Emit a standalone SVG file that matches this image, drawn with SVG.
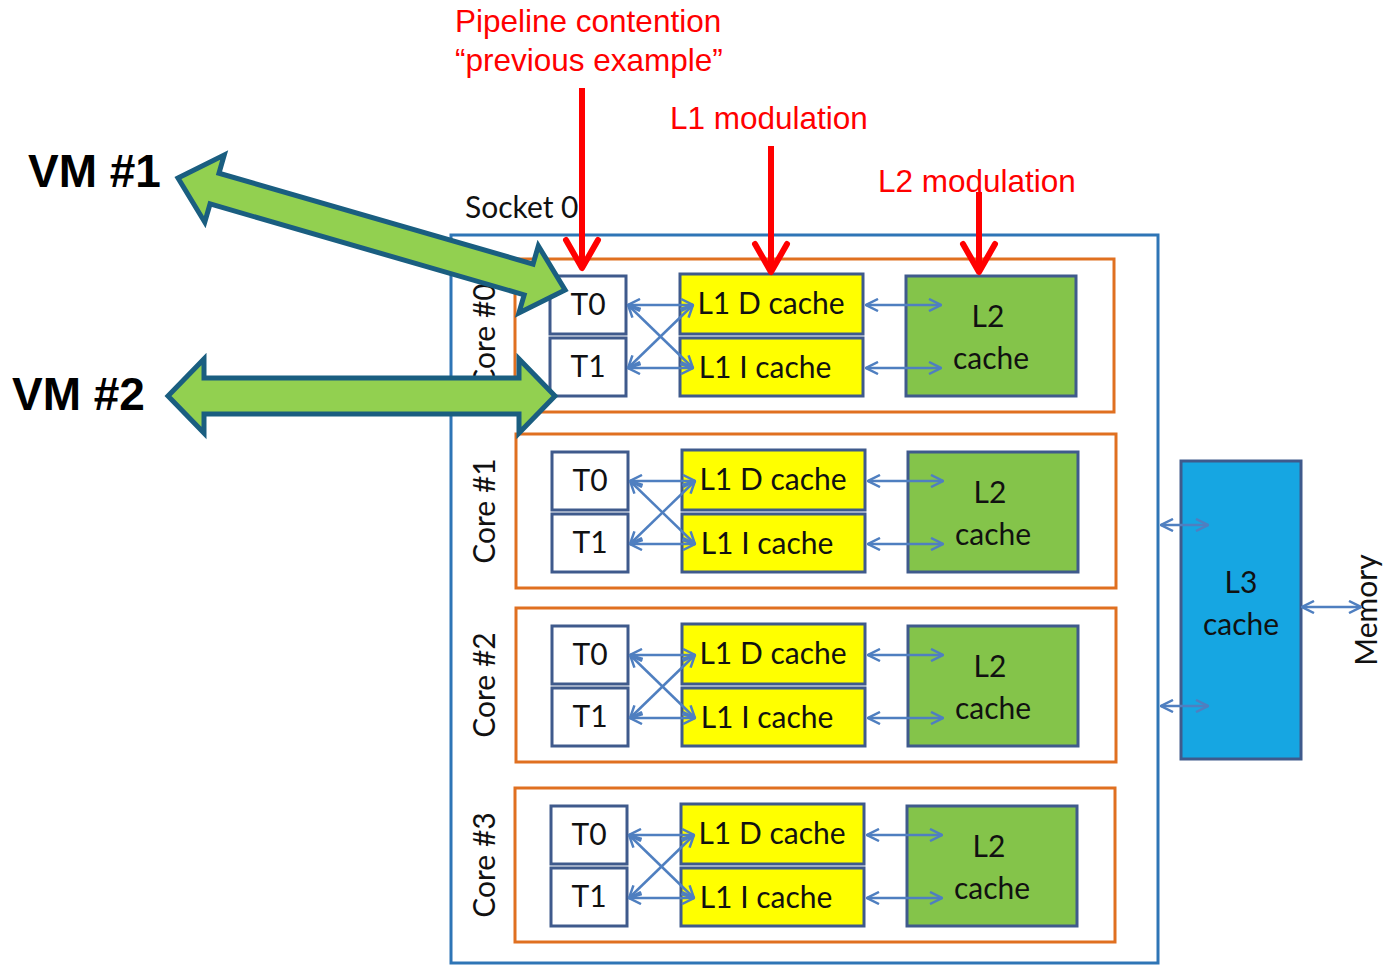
<svg xmlns="http://www.w3.org/2000/svg" width="1387" height="965" viewBox="0 0 1387 965">
  <style>
    .lbl { font-family: Lato, "Open Sans", sans-serif; fill: #111; }
    .box { font-size: 30px; text-anchor: middle; }
    .red { font-family: "Liberation Sans", Arial, sans-serif; font-size: 31.5px; fill: #ff0000; }
    .vm { font-family: "Liberation Sans", Arial, sans-serif; font-size: 46px; font-weight: bold; fill: #000; }
    .socket { fill: none; stroke: #2e75b6; stroke-width: 3; }
    .core { fill: none; stroke: #e07020; stroke-width: 3; }
    .thr { fill: #fff; stroke: #3f5a8c; stroke-width: 3; }
    .l1 { fill: #ffff00; stroke: #3f5a8c; stroke-width: 3; }
    .l2 { fill: #84c44a; stroke: #3f5a8c; stroke-width: 3; }
    .l3 { fill: #16a6e2; stroke: #3f5a8c; stroke-width: 3; }
    .link { stroke: #4f7fc0; stroke-width: 2.5; fill: none; marker-start: url(#tip); marker-end: url(#tip); }
    .hot { stroke: #ff0000; stroke-width: 6; fill: none; marker-end: url(#redtip); }
    .vmarrow { fill: #92d050; stroke: #1a5e80; stroke-width: 5; stroke-linejoin: miter; }
  </style>
  <defs>
    <marker id="tip" viewBox="0 0 14 14" refX="13" refY="7" markerWidth="14" markerHeight="14" markerUnits="userSpaceOnUse" orient="auto-start-reverse">
      <path d="M1,1 L13,7 L1,13" fill="none" stroke="#4f7fc0" stroke-width="2.5"/>
    </marker>
    <marker id="redtip" viewBox="0 0 40 40" refX="36" refY="20" markerWidth="40" markerHeight="40" markerUnits="userSpaceOnUse" orient="auto">
      <path d="M8,4 L36,20 L8,36" fill="none" stroke="#ff0000" stroke-width="6" stroke-linecap="round" stroke-linejoin="round"/>
    </marker>
    <!-- one processor core: threads, L1 split caches and a private L2 -->
    <g id="coreBody">
      <rect class="thr" x="0" y="0" width="76" height="58"/>
      <rect class="thr" x="0" y="62" width="76" height="58"/>
      <text class="lbl box" x="38" y="39">T0</text>
      <text class="lbl box" x="38" y="101">T1</text>
      <rect class="l1" x="130" y="-2" width="183" height="60"/>
      <rect class="l1" x="130" y="62" width="183" height="58"/>
      <text class="lbl box" x="221" y="38">L1 D cache</text>
      <text class="lbl box" x="215" y="102">L1 I cache</text>
      <rect class="l2" x="356" y="0" width="170" height="120"/>
      <text class="lbl box" x="438" y="51">L2</text>
      <text class="lbl box" x="441" y="93">cache</text>
      <g>
        <line class="link" x1="78" y1="29" x2="143" y2="29"/>
        <line class="link" x1="78" y1="92" x2="143" y2="92"/>
        <line class="link" x1="78" y1="29" x2="143" y2="92"/>
        <line class="link" x1="78" y1="92" x2="143" y2="29"/>
        <line class="link" x1="316" y1="29" x2="391" y2="29"/>
        <line class="link" x1="316" y1="92" x2="391" y2="92"/>
      </g>
    </g>
  </defs>

  <!-- socket outline -->
  <g id="socket0">
    <rect class="socket" x="451" y="235" width="707" height="728"/>
    <text class="lbl" x="465" y="218" font-size="30">Socket 0</text>
  </g>

  <g id="core0">
    <rect class="core" x="515" y="259" width="599" height="153"/>
    <text class="lbl box" transform="translate(495,336) rotate(-90)">Core #0</text>
    <use href="#coreBody" x="550" y="276"/>
  </g>
  <g id="core1">
    <rect class="core" x="516" y="434" width="600" height="154"/>
    <text class="lbl box" transform="translate(495,511) rotate(-90)">Core #1</text>
    <use href="#coreBody" x="552" y="452"/>
  </g>
  <g id="core2">
    <rect class="core" x="516" y="608" width="600" height="154"/>
    <text class="lbl box" transform="translate(495,685) rotate(-90)">Core #2</text>
    <use href="#coreBody" x="552" y="626"/>
  </g>
  <g id="core3">
    <rect class="core" x="515" y="788" width="600" height="154"/>
    <text class="lbl box" transform="translate(495,865) rotate(-90)">Core #3</text>
    <use href="#coreBody" x="551" y="806"/>
  </g>

  <g id="l3">
    <rect class="l3" x="1181" y="461" width="120" height="298"/>
    <text class="lbl box" x="1241" y="593">L3</text>
    <text class="lbl box" x="1241" y="635">cache</text>
  </g>

  <g id="memory">
    <text class="lbl box" transform="translate(1377,610) rotate(-90)">Memory</text>
  </g>

  <!-- shared-level links -->
  <g id="connectors">
    <line class="link" x1="1161" y1="525" x2="1208" y2="525"/>
    <line class="link" x1="1161" y1="706" x2="1208" y2="706"/>
    <line class="link" x1="1302" y1="607" x2="1361" y2="607"/>
    <line class="hot" x1="582" y1="88" x2="582" y2="268"/>
    <line class="hot" x1="771" y1="146" x2="771" y2="272"/>
    <line class="hot" x1="979" y1="192" x2="979" y2="272"/>
  </g>

  <!-- annotations -->
  <g id="annotations">
    <text class="red" x="455" y="32">Pipeline contention</text>
    <text class="red" x="455" y="71">“previous example”</text>
    <text class="red" x="670" y="129">L1 modulation</text>
    <text class="red" x="878" y="192">L2 modulation</text>
  </g>

  <!-- virtual machines mapped onto hardware threads -->
  <g id="vm1">
    <text class="vm" x="28" y="187">VM #1</text>
    <polygon class="vmarrow" transform="translate(178,178) rotate(16.14)"
      points="0,0 38,-35 38,-16 365,-16 365,-35 403,0 365,35 365,16 38,16 38,35"/>
  </g>
  <g id="vm2">
    <text class="vm" x="12" y="410">VM #2</text>
    <polygon class="vmarrow" transform="translate(168,396)"
      points="0,0 36,-37 36,-18 351,-18 351,-37 387,0 351,37 351,18 36,18 36,37"/>
  </g>
</svg>
